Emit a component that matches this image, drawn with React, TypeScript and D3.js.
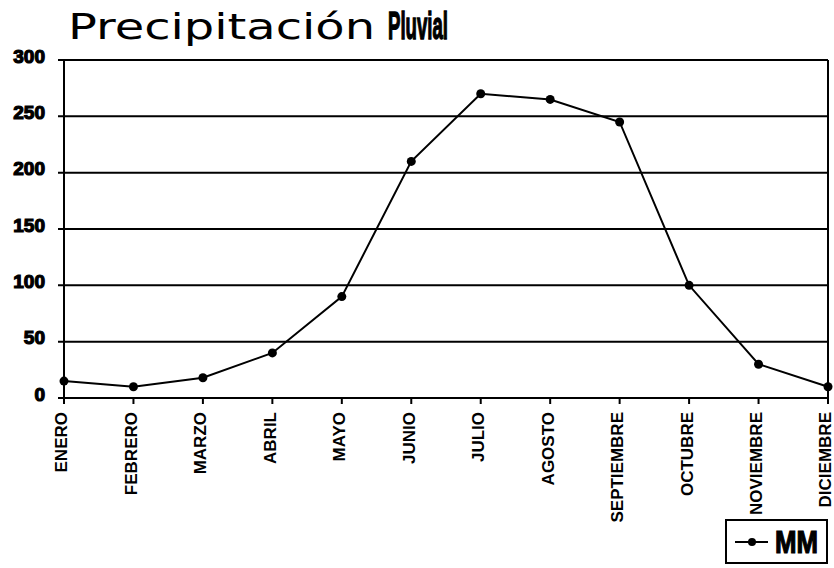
import React from "react";
import * as d3 from "d3";

const months = [
  "ENERO", "FEBRERO", "MARZO", "ABRIL", "MAYO", "JUNIO",
  "JULIO", "AGOSTO", "SEPTIEMBRE", "OCTUBRE", "NOVIEMBRE", "DICIEMBRE",
];
const mm = [15, 10, 18, 40, 90, 210, 270, 265, 245, 100, 30, 10];
const yTicks = [0, 50, 100, 150, 200, 250, 300];
const seriesName = "MM";
const titleRegular = "Precipitación";
const titleBold = "Pluvial";

const W = 834;
const H = 568;

export default function App() {
  const x = d3.scalePoint<string>().domain(months).range([64, 828]);
  const y = d3.scaleLinear().domain([0, 300]).range([398, 60]);
  const line = d3
    .line<number>()
    .x((_, i) => x(months[i]) as number)
    .y((d) => y(d))
    .curve(d3.curveLinear);

  const narrow = "'Liberation Sans Narrow', 'Arial Narrow', 'Liberation Sans', sans-serif";

  return (
    <svg
      width={W}
      height={H}
      viewBox={`0 0 ${W} ${H}`}
      style={{ position: "absolute", left: 0, top: 0, background: "#fff" }}
    >
      <rect x={0} y={0} width={W} height={H} fill="#fff" />
      {/* title */}
      <text
        x={68}
        y={39}
        fontFamily="'DejaVu Sans', sans-serif"
        fontSize={36}
        textLength={307}
        lengthAdjust="spacingAndGlyphs"
        fill="#000"
      >
        {titleRegular}
      </text>
      <text
        x={388}
        y={39}
        fontFamily={narrow}
        fontWeight="bold"
        fontSize={38}
        textLength={60}
        lengthAdjust="spacingAndGlyphs"
        stroke="#000"
        strokeWidth={1.4}
        fill="#000"
      >
        {titleBold}
      </text>

      {/* gridlines */}
      {yTicks.map((t) => (
        <line
          key={t}
          x1={58}
          x2={828}
          y1={y(t)}
          y2={y(t)}
          stroke="#000"
          strokeWidth={2}
        />
      ))}
      {/* y tick labels */}
      {yTicks.map((t) => (
        <text
          key={"l" + t}
          x={45}
          y={y(t) - 4}
          dy="0.35em"
          textAnchor="end"
          fontFamily="'Liberation Sans', Arial, sans-serif"
          fontWeight="bold"
          fontSize={19}
          stroke="#000"
          strokeWidth={1.2}
          fill="#000"
        >
          {t}
        </text>
      ))}
      {/* axes frame */}
      <line x1={64} x2={64} y1={y(300)} y2={y(0)} stroke="#000" strokeWidth={2} />
      <line x1={828} x2={828} y1={y(300)} y2={y(0)} stroke="#000" strokeWidth={2} />
      {/* x ticks */}
      {months.map((m) => (
        <line
          key={"t" + m}
          x1={x(m)}
          x2={x(m)}
          y1={y(0)}
          y2={y(0) + 6}
          stroke="#000"
          strokeWidth={2}
        />
      ))}
      {/* x labels */}
      {months.map((m) => (
        <text
          key={"x" + m}
          transform={`translate(${(x(m) as number) - 2.5},${412}) rotate(-90)`}
          dy="0.35em"
          textAnchor="end"
          fontFamily={narrow}
          fontWeight="bold"
          fontSize={17}
          fill="#000"
        >
          {m}
        </text>
      ))}

      {/* series */}
      <path d={line(mm) || ""} fill="none" stroke="#000" strokeWidth={2} />
      {mm.map((v, i) => (
        <circle key={"c" + i} cx={x(months[i])} cy={y(v)} r={4.5} fill="#000" />
      ))}

      {/* legend */}
      <rect x={726} y={520} width={101} height={43} fill="#fff" stroke="#000" strokeWidth={2} />
      <line x1={735} x2={768} y1={542} y2={542} stroke="#000" strokeWidth={2} />
      <circle cx={752} cy={542} r={4} fill="#000" />
      <text
        x={775}
        y={553}
        fontFamily={narrow}
        fontWeight="bold"
        fontSize={31}
        textLength={43}
        lengthAdjust="spacingAndGlyphs"
        stroke="#000"
        strokeWidth={1.2}
        fill="#000"
      >
        {seriesName}
      </text>
    </svg>
  );
}
